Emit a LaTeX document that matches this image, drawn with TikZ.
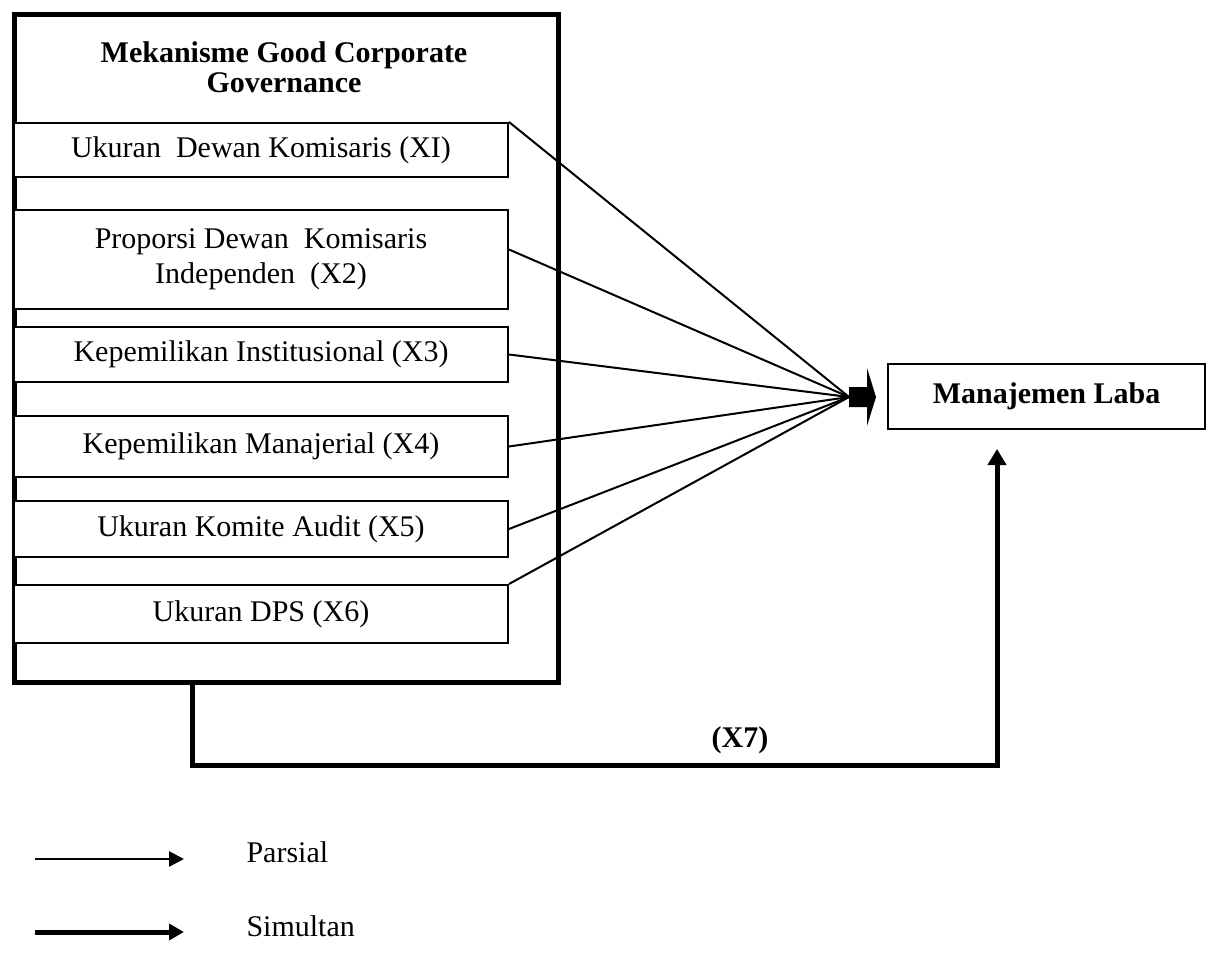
\documentclass[tikz,border=0pt]{standalone}
\usepackage{fontspec}
\setmainfont{Liberation Serif}
\usetikzlibrary{arrows.meta,calc}
\begin{document}
\begin{tikzpicture}[x=1pt,y=-1pt,
  txt/.style={font=\fontsize{30}{35}\selectfont},
  btxt/.style={font=\fontsize{30}{30}\selectfont\bfseries},
  inbox/.style={draw,line width=2pt,fill=white,inner sep=0pt,minimum width=494pt,anchor=north west,align=center,font=\fontsize{30}{35}\selectfont},
  conn/.style={line width=2pt},
  thick5/.style={line width=5pt}]
\useasboundingbox (0,0) rectangle (1211,955);
% outer box
\node[draw,thick5,inner sep=0pt,minimum width=544pt,minimum height=668pt,anchor=north west] (outer) at (12,12) {};
\node[btxt,align=center] (title) at (284,67) {Mekanisme Good Corporate\\Governance};
% inner boxes
\node[inbox,minimum height=54pt] (b1) at (13,122) {Ukuran\ \ Dewan Komisaris (XI)};
\node[inbox,minimum height=99pt] (b2) at (13,209) {Proporsi Dewan\ \ Komisaris\\Independen\ \ (X2)};
\node[inbox,minimum height=55pt] (b3) at (13,326) {Kepemilikan Institusional (X3)};
\node[inbox,minimum height=61pt] (b4) at (13,415) {Kepemilikan Manajerial (X4)};
\node[inbox,minimum height=56pt] (b5) at (13,500) {Ukuran Komite Audit (X5)};
\node[inbox,minimum height=58pt] (b6) at (13,584) {Ukuran DPS (X6)};
% target
\node[draw,line width=2pt,inner sep=0pt,minimum width=317pt,minimum height=65pt,anchor=north west,btxt] (ml) at (887,363) {Manajemen Laba};
% hub
\coordinate (hub) at (849,397);
\draw[conn] (b1.north east) -- (hub);
\draw[conn] ($(b2.east)+(0,-10)$) -- (hub);
\draw[conn] (b3.east) -- (hub);
\draw[conn] (b4.east) -- (hub);
\draw[conn] (b5.east) -- (hub);
\draw[conn] (b6.north east) -- (hub);
\fill ($(hub)+(0,-10)$) -- ++(18,0) -- ++(0,-19) -- ($(hub)+(27,0)$) -- ($(hub)+(18,29)$) -- ++(0,-19) -- ++(-18,0) -- cycle;
% simultaneous connector
\coordinate (s0) at ($(outer.south west)+(180,0)$);
\coordinate (s1) at ($(s0)+(0,80)$);
\coordinate (tip) at ($(ml.south west)+(110,19)$);
\draw[thick5,-{Triangle[width=18pt,length=16pt]}] (s0) -- (s1) -- (s1 -| tip) -- (tip);
\node[btxt] (x7) at (740,740) {(X7)};
% legend
\coordinate (p0) at (35,859);
\coordinate (p1) at (184,859);
\draw[line width=2.5pt,-{Triangle[width=15pt,length=15pt]}] (p0) -- (p1);
\node[txt,anchor=west] (parsial) at (243,852) {Parsial};
\coordinate (q0) at (35,932);
\coordinate (q1) at (184,932);
\draw[line width=5pt,-{Triangle[width=16pt,length=15pt]}] (q0) -- (q1);
\node[txt,anchor=west] (simultan) at (243,926) {Simultan};
\end{tikzpicture}
\end{document}
